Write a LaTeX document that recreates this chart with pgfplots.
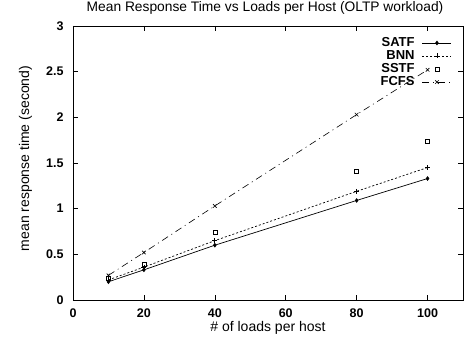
\documentclass[border=0pt]{standalone}
\usepackage{pgfplots}
\pgfplotsset{compat=1.18}
\usepackage{fontspec}
\setmainfont{Liberation Sans}
\begin{document}
\begin{tikzpicture}
\begin{axis}[
  name=ax,
  scale only axis,
  width=390pt, height=274pt,
  xmin=0, xmax=110, ymin=0, ymax=3,
  xtick={0,20,40,60,80,100},
  ytick={0,0.5,1,1.5,2,2.5,3},
  yticklabels={0,0.5,1,1.5,2,2.5,3},
  tick align=inside,
  major tick length=5pt,
  tick style={black, line width=0.6pt},
  axis line style={line width=0.8pt},
  /pgf/number format/assume math mode=true,
  ticklabel style={font=\fontsize{12.5}{14}\selectfont\bfseries},
  yticklabel style={xshift=-6pt},
  xticklabel style={yshift=-5pt},
  title={Mean Response Time vs Loads per Host (OLTP workload)},
  title style={font=\fontsize{13.8}{16}\selectfont, at={(axis description cs:0.5,1)}, anchor=base, yshift=8pt, xshift=-3pt},
  xlabel={\# of loads per host},
  ylabel={mean response time (second)},
  label style={font=\fontsize{14}{16}\selectfont},
  xlabel style={at={(axis description cs:0.5,0)}, anchor=base, yshift=-31pt},
  ylabel style={at={(axis description cs:-0.1128,0.5164)}, anchor=base},
  legend style={at={(rel axis cs:1,1)}, anchor=north east, xshift=-11pt, yshift=-11pt,
    draw=none, fill=none, inner sep=0pt, nodes={inner sep=0.5pt},
    font=\fontsize{13}{14}\selectfont\bfseries, row sep=1.5pt,
    /tikz/every odd column/.append style={column sep=7pt}},
  legend cell align=right,
  legend plot pos=right,
  legend image code/.code={\draw[mark repeat=2,mark phase=2,#1] plot coordinates {(0pt,0pt) (14.5pt,0pt) (29pt,0pt)};},
]
\addplot[black, line width=0.7pt, mark=diamond*, mark size=1.8pt] coordinates {
  (10,0.20) (20,0.33) (40,0.60) (80,1.09) (100,1.33)};
\addlegendentry{SATF}
\addplot[black, line width=0.7pt, dash pattern=on 2pt off 2pt, mark=+, mark size=2.5pt, mark options={solid}] coordinates {
  (10,0.22) (20,0.36) (40,0.65) (80,1.19) (100,1.45)};
\addlegendentry{BNN}
\addplot[black, only marks, mark=square, mark size=2pt, line width=0.6pt] coordinates {
  (10,0.24) (20,0.39) (40,0.74) (80,1.41) (100,1.74)};
\addlegendentry{SSTF}
\addplot[black, line width=0.6pt, dash pattern=on 7pt off 4pt on 1pt off 4pt, mark=x, mark size=2.5pt, mark options={solid}] coordinates {
  (10,0.27) (20,0.52) (40,1.03) (80,2.03) (100,2.52)};
\addlegendentry{FCFS}
\end{axis}
\pgfresetboundingbox
\path (ax.south west) ++(-73pt,-37pt) rectangle ([shift={(1pt,26pt)}]ax.north east);
\end{tikzpicture}
\end{document}
